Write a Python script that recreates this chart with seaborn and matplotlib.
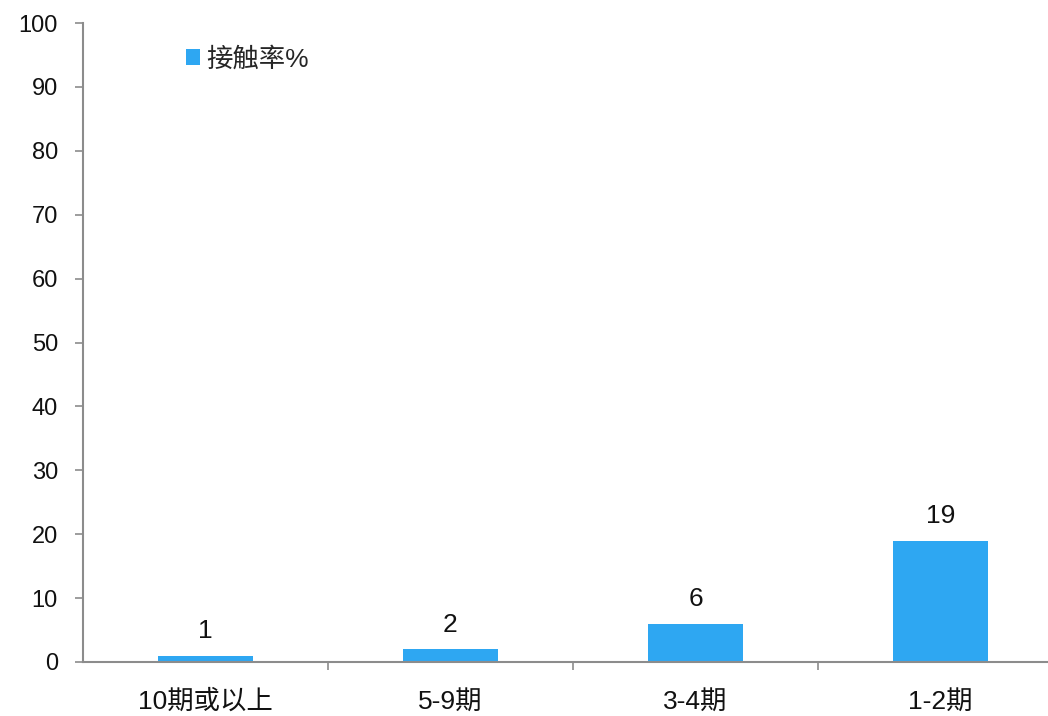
import matplotlib
matplotlib.use("Agg")
import matplotlib.pyplot as plt
import seaborn as sns
import pandas as pd
from matplotlib.patches import Patch
from matplotlib.ticker import FixedLocator

categories = ["10期或以上", "5-9期", "3-4期", "1-2期"]
values = [1, 2, 6, 19]
series_name = "接触率%"

sns.set_theme(style="white")
plt.rcParams['font.family'] = ['Liberation Sans', 'Noto Sans CJK SC', 'DejaVu Sans']

df = pd.DataFrame({"cat": categories, "val": values})

fig = plt.figure(figsize=(10.48, 7.16), dpi=100)
ax = fig.add_axes([83/1048, 54/716, (1063-83)/1048, (662-23)/716])

color = "#2EA7F2"
sns.barplot(data=df, x="cat", y="val", color=color, width=0.39, ax=ax,
            saturation=1, edgecolor="none")

ax.set_xlim(-0.5, 3.5)
ax.set_ylim(0, 100)
ax.set_yticks(range(0, 101, 10))
ax.set_xlabel("")
ax.set_ylabel("")

for c in ax.containers:
    ax.bar_label(c, labels=[str(v) for v in values], padding=9, fontsize=19, color="#111111")

for s in ["top", "right"]:
    ax.spines[s].set_visible(False)
for s in ["left", "bottom"]:
    ax.spines[s].set_color("#8c8c8c")
    ax.spines[s].set_linewidth(1.5)

ax.tick_params(axis="y", which="major", direction="out", length=6, width=1.2,
               color="#8c8c8c", labelsize=17, labelcolor="#111111", left=True, pad=12)
ax.tick_params(axis="x", which="major", length=0, labelsize=19, labelcolor="#111111", pad=20)
ax.xaxis.set_minor_locator(FixedLocator([0.5, 1.5, 2.5]))
ax.tick_params(axis="x", which="minor", direction="out", length=6, width=1.2,
               color="#8c8c8c", bottom=True)

handle = Patch(facecolor=color, edgecolor="none")
fig.legend([handle], [series_name], loc="upper left",
           bbox_to_anchor=(175/1048, 1 - 36/716), frameon=False,
           fontsize=19, handlelength=0.55, handleheight=0.55, handletextpad=0.25,
           borderaxespad=0)

fig.savefig("out.png", dpi=100, facecolor="white")
